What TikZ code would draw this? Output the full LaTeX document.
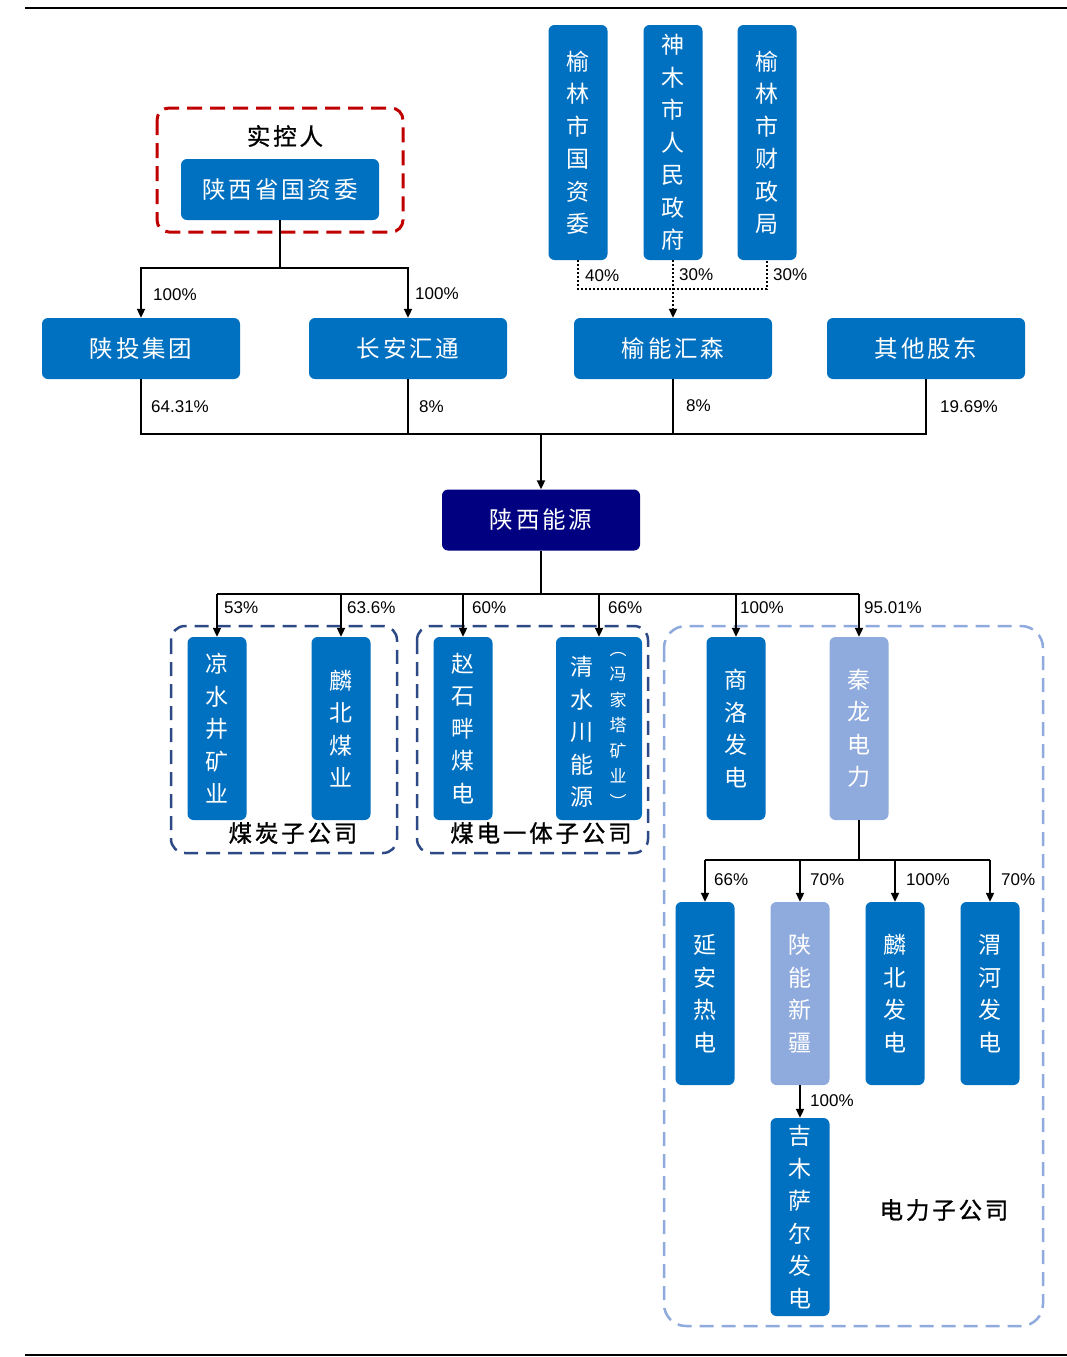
\documentclass[tikz,border=0pt]{standalone}
\usepackage{fontspec}
\setmainfont{Liberation Sans}
\newfontfamily\cjk{Noto Sans CJK SC}
\newfontfamily\cjkw[LetterSpace=12]{Noto Sans CJK SC}
\newfontfamily\cjkg[LetterSpace=12,FakeBold=1]{Noto Sans CJK SC}
\usetikzlibrary{arrows.meta}
\definecolor{cblue}{HTML}{0070C0}
\definecolor{clight}{HTML}{8FAADC}
\definecolor{cnavy}{HTML}{000080}
\definecolor{cred}{HTML}{C00000}
\definecolor{cgroup}{HTML}{2E4A86}
\tikzset{
  hbox/.style={fill=cblue, rounded corners=6pt, minimum width=198pt, minimum height=61pt, inner sep=0pt, text=white, font=\cjkw\fontsize{23.5}{28}\selectfont},
  vbox/.style={fill=cblue, rounded corners=6pt, minimum width=59pt, inner sep=0pt, text=white, align=center, font=\cjk\fontsize{23}{32.5}\selectfont},
  vtxt/.style={text=white, align=center, inner sep=0pt, font=\cjk\fontsize{23}{32.5}\selectfont},
  pct/.style={anchor=west, inner sep=0pt, font=\fontsize{17}{20}\selectfont},
  grp/.style={inner sep=0pt, text=black, font=\cjkg\fontsize{23.5}{28}\selectfont},
  conn/.style={line width=2pt, draw=black},
  arr/.style={line width=2pt, draw=black, -{Triangle[length=9pt,width=8pt]}},
  dotl/.style={line width=2pt, draw=black, dash pattern=on 2pt off 2pt},
}
\begin{document}
\begin{tikzpicture}[x=1pt,y=-1pt]
\useasboundingbox (0,0) rectangle (1067,1357);
% frame lines
\coordinate (tl) at (25,8); \coordinate (tr) at (1067,8);
\coordinate (bl) at (25,1355); \coordinate (br) at (1067,1355);
\draw[line width=2pt] (tl) -- (tr);
\draw[line width=1.5pt] (bl) -- (br);

% red controller box
\draw[cred, line width=3pt, dash pattern=on 15pt off 8pt, rounded corners=12pt] (157,108) rectangle (403,232);
\node[grp] (skr) at (285,136) {实控人};
\node[hbox] (gzw) at (280,189.5) {陕西省国资委};

% top vertical boxes
\node[vbox, minimum height=235pt] (ylgz) at (578,142.5) {榆\\林\\市\\国\\资\\委};
\node[vbox, minimum height=235pt] (smzf) at (673,142.5) {神\\木\\市\\人\\民\\政\\府};
\node[vbox, minimum height=235pt] (ylcz) at (767,142.5) {榆\\林\\市\\财\\政\\局};

% second row
\node[hbox] (stjt) at (141,348.5) {陕投集团};
\node[hbox] (caht) at (408,348.5) {长安汇通};
\node[hbox] (ynhs) at (673,348.5) {榆能汇森};
\node[hbox] (qtgd) at (926,348.5) {其他股东};

% controller to row 2
\coordinate (bus1) at (0,268);
\draw[conn] (gzw.south) -- (gzw.south |- bus1);
\draw[arr] (gzw.south |- bus1) -| (stjt.north);
\draw[arr] (gzw.south |- bus1) -| (caht.north);
\node[pct] (p100a) at (153,295) {100\%};
\node[pct] (p100b) at (415,294) {100\%};

% dotted connectors
\coordinate (bus0) at (0,289);
\draw[dotl] (ylgz.south) |- (ylcz.south |- bus0) -- (ylcz.south);
\draw[dotl, -{Triangle[length=9pt,width=8pt]}] (smzf.south) -- (ynhs.north);
\node[pct] (p40) at (585,276) {40\%};
\node[pct] (p30a) at (679,275) {30\%};
\node[pct] (p30b) at (773,275) {30\%};

% main company
\node[hbox, fill=cnavy] (sxny) at (541,520) {陕西能源};
\coordinate (bus2) at (0,434);
\draw[conn] (stjt.south) |- (qtgd.south |- bus2) -- (qtgd.south);
\draw[conn] (caht.south) -- (caht.south |- bus2);
\draw[conn] (ynhs.south) -- (ynhs.south |- bus2);
\draw[arr] (sxny.north |- bus2) -- (sxny.north);
\node[pct] (p6431) at (151,407) {64.31\%};
\node[pct] (p8a) at (419,407) {8\%};
\node[pct] (p8b) at (686,406) {8\%};
\node[pct] (p1969) at (940,407) {19.69\%};

% group frames
\draw[cgroup, line width=2.5pt, dash pattern=on 14pt off 8pt, rounded corners=14pt] (171,626) rectangle (397,853);
\draw[cgroup, line width=2.5pt, dash pattern=on 14pt off 8pt, rounded corners=14pt] (417,626) rectangle (648,853);
\draw[clight, line width=2.5pt, dash pattern=on 14pt off 8pt, rounded corners=22pt] (664,626) rectangle (1043,1326);
\node[grp] (gmt) at (293,833) {煤炭子公司};
\node[grp] (gmd) at (541,833) {煤电一体子公司};
\node[grp] (gdl) at (944,1210) {电力子公司};

% third row
\node[vbox, minimum height=183pt] (lsj) at (217,728.5) {凉\\水\\井\\矿\\业};
\node[vbox, minimum height=183pt] (lbmy) at (341,728.5) {麟\\北\\煤\\业};
\node[vbox, minimum height=183pt] (zsp) at (463,728.5) {赵\\石\\畔\\煤\\电};
\node[vbox, minimum width=86pt, minimum height=183pt] (qsc) at (599,728.5) {};
\node[vtxt] (qsct) at (582,732) {清\\水\\川\\能\\源};
\node[vtxt, font=\cjk\fontsize{17}{25.5}\selectfont] (fjt) at (618,730) {︵\\冯\\家\\塔\\矿\\业\\︶};
\node[vbox, minimum height=183pt] (slfd) at (736,728.5) {商\\洛\\发\\电};
\node[vbox, minimum height=183pt, fill=clight] (qldl) at (859,728.5) {秦\\龙\\电\\力};

\coordinate (bus3) at (0,594);
\draw[conn] (sxny.south) -- (sxny.south |- bus3);
\draw[arr] (lsj.north |- bus3) -- (lsj.north);
\draw[arr] (lbmy.north |- bus3) -- (lbmy.north);
\draw[arr] (zsp.north |- bus3) -- (zsp.north);
\draw[arr] (qsc.north |- bus3) -- (qsc.north);
\draw[arr] (slfd.north |- bus3) -- (slfd.north);
\draw[conn] (lsj.north |- bus3) -- (qldl.north |- bus3);
\draw[arr] (qldl.north |- bus3) -- (qldl.north);
\node[pct] (p53) at (224,608) {53\%};
\node[pct] (p636) at (347,608) {63.6\%};
\node[pct] (p60) at (472,608) {60\%};
\node[pct] (p66a) at (608,608) {66\%};
\node[pct] (p100c) at (740,608) {100\%};
\node[pct] (p9501) at (864,608) {95.01\%};

% fourth row
\node[vbox, minimum height=183pt] (yard) at (705,993.5) {延\\安\\热\\电};
\node[vbox, minimum height=183pt, fill=clight] (snxj) at (800,993.5) {陕\\能\\新\\疆};
\node[vbox, minimum height=183pt] (lbfd) at (895,993.5) {麟\\北\\发\\电};
\node[vbox, minimum height=183pt] (whfd) at (990,993.5) {渭\\河\\发\\电};
\coordinate (bus4) at (0,860);
\draw[conn] (qldl.south) -- (qldl.south |- bus4);
\draw[conn] (yard.north |- bus4) -- (whfd.north |- bus4);
\draw[arr] (yard.north |- bus4) -- (yard.north);
\draw[arr] (snxj.north |- bus4) -- (snxj.north);
\draw[arr] (lbfd.north |- bus4) -- (lbfd.north);
\draw[arr] (whfd.north |- bus4) -- (whfd.north);
\node[pct] (p66b) at (714,880) {66\%};
\node[pct] (p70a) at (810,880) {70\%};
\node[pct] (p100d) at (906,880) {100\%};
\node[pct] (p70b) at (1001,880) {70\%};

% fifth
\node[vbox, minimum height=198pt] (jmse) at (800,1217) {吉\\木\\萨\\尔\\发\\电};
\draw[arr] (snxj.south) -- (jmse.north);
\node[pct] (p100e) at (810,1101) {100\%};
\end{tikzpicture}
\end{document}
